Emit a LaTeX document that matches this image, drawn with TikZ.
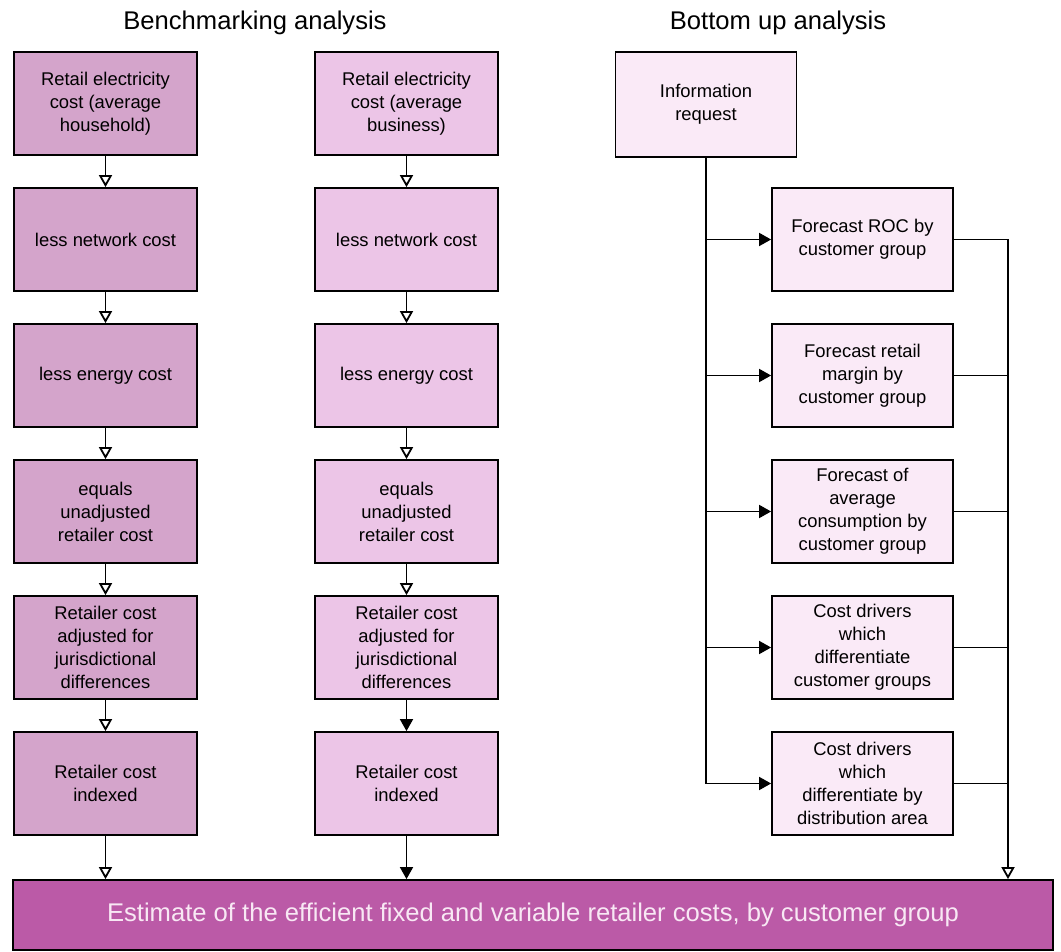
\documentclass[tikz,border=0pt]{standalone}
\usepackage{fontspec}
\setmainfont{Liberation Sans}
\usetikzlibrary{arrows.meta}

\definecolor{houseFill}{RGB}{212,164,203}
\definecolor{busiFill}{RGB}{236,197,231}
\definecolor{upFill}{RGB}{250,234,247}
\definecolor{estFill}{RGB}{187,90,167}
\definecolor{estText}{RGB}{248,232,244}

\begin{document}
\begin{tikzpicture}[x=0.5pt,y=-0.5pt,
line width=0.9pt,
box/.style={%
draw,
align=center,
inner sep=2pt,
minimum height=51.5pt,
minimum width=91.5pt,
font=\fontsize{9.2}{11.5}\selectfont
},
house/.style={%
box,
fill=houseFill
},
busi/.style={%
box,
fill=busiFill
},
up/.style={%
box,
fill=upFill,
minimum width=90.5pt
},
est/.style={%
draw,
fill=estFill,
text=estText,
minimum height=35pt,
minimum width=520pt,
font=\fontsize{12.8}{15}\selectfont
},
head/.style={%
font=\fontsize{12.8}{15}\selectfont
},
open/.style={-{Triangle[open,length=6pt,width=6.5pt]}},
solid/.style={-{Triangle[length=6pt,width=6.5pt]}},
]
\useasboundingbox (0,0) rectangle (1061,952);

%% titles
\node[head]at(255,23)(h1){Benchmarking analysis};
\node[head]at(778,23)(h2){Bottom up analysis};

%% household column
\node[house]at(105.5,103.5)(a1){Retail electricity\\cost (average\\household)};
\node[house]at(105.5,239.5)(a2){less network cost};
\node[house]at(105.5,375.5)(a3){less energy cost};
\node[house]at(105.5,511.5)(a4){equals\\unadjusted\\retailer cost};
\node[house]at(105.5,647.5)(a5){Retailer cost\\adjusted for\\jurisdictional\\differences};
\node[house]at(105.5,783.5)(a6){Retailer cost\\indexed};

%% business column
\node[busi]at(406.5,103.5)(b1){Retail electricity\\cost (average\\business)};
\node[busi]at(406.5,239.5)(b2){less network cost};
\node[busi]at(406.5,375.5)(b3){less energy cost};
\node[busi]at(406.5,511.5)(b4){equals\\unadjusted\\retailer cost};
\node[busi]at(406.5,647.5)(b5){Retailer cost\\adjusted for\\jurisdictional\\differences};
\node[busi]at(406.5,783.5)(b6){Retailer cost\\indexed};

%% bottom up
\node[up,minimum height=52.5pt]at(706,104.5)(info){Information\\request};
\node[up]at(862.5,239.5)(r1){Forecast ROC by\\customer group};
\node[up]at(862.5,375.5)(r2){Forecast retail\\margin by\\customer group};
\node[up]at(862.5,511.5)(r3){Forecast of\\average\\consumption by\\customer group};
\node[up]at(862.5,647.5)(r4){Cost drivers\\which\\differentiate\\customer groups};
\node[up]at(862.5,783.5)(r5){Cost drivers\\which\\differentiate by\\distribution area};
\coordinate (rt) at (1008,239.5);

%% result
\node[est]at(533,915)(est){Estimate of the efficient fixed and variable retailer costs, by customer group};

%% arrows
\draw[open](a1)--(a2);
\draw[open](a2)--(a3);
\draw[open](a3)--(a4);
\draw[open](a4)--(a5);
\draw[open](a5)--(a6);
\draw[open](a6)--(a6|-est.north);
\draw[open](b1)--(b2);
\draw[open](b2)--(b3);
\draw[open](b3)--(b4);
\draw[open](b4)--(b5);
\draw[solid](b5)--(b6);
\draw[solid](b6)--(b6|-est.north);

\draw(info)--(info|-r5);
\draw[solid](info|-r1)--(r1);
\draw[solid](info|-r2)--(r2);
\draw[solid](info|-r3)--(r3);
\draw[solid](info|-r4)--(r4);
\draw[solid](info|-r5)--(r5);
\draw(r1)--(rt);
\draw(r2)--(r2-|rt);
\draw(r3)--(r3-|rt);
\draw(r4)--(r4-|rt);
\draw(r5)--(r5-|rt);
\draw[open](rt)--(rt|-est.north);
\end{tikzpicture}
\end{document}
